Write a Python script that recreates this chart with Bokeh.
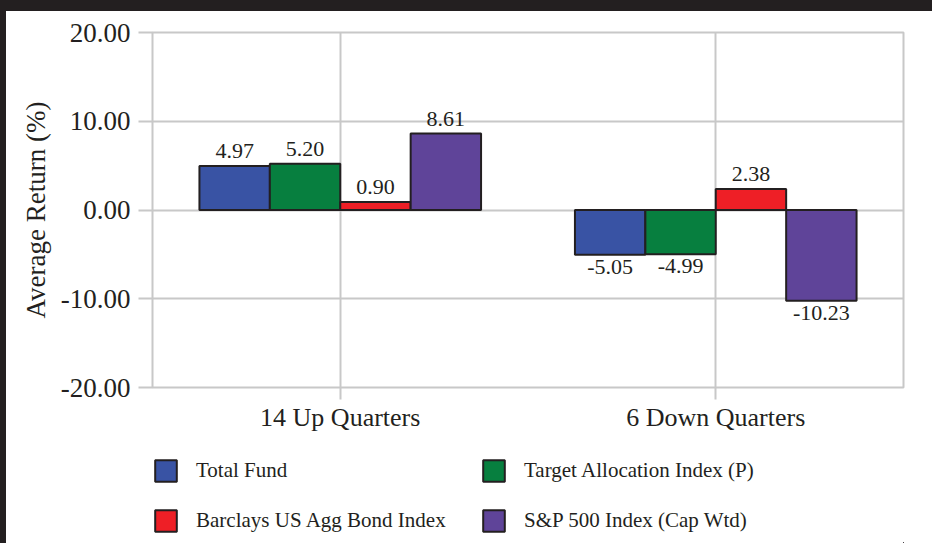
from bokeh.plotting import figure
from bokeh.models import (FactorRange, Range1d, ColumnDataSource, FixedTicker,
                          Legend, LegendItem, NumeralTickFormatter, Div)
from bokeh.layouts import column, row
from bokeh.transform import dodge
from bokeh.core.properties import value, field
from bokeh.embed import file_html
from bokeh.resources import INLINE

categories = ["14 Up Quarters", "6 Down Quarters"]
series_names = ["Total Fund", "Target Allocation Index (P)",
                "Barclays US Agg Bond Index", "S&P 500 Index (Cap Wtd)"]
total_fund = [4.97, -5.05]
target_alloc = [5.20, -4.99]
barclays_agg = [0.90, 2.38]
sp500 = [8.61, -10.23]
y_ticks = [-20, -10, 0, 10, 20]
colors = ["#3953a4", "#077f3f", "#ee1f26", "#5f4499"]

FONT = "Liberation Serif"
GRID = "#c8c8c8"
EDGE = "#231f20"

p = figure(x_range=FactorRange(*categories), y_range=Range1d(-20, 20),
           width=926, height=429, output_backend="svg", toolbar_location=None,
           min_border_left=146, min_border_right=29, min_border_top=21,
           min_border_bottom=53)

p.background_fill_color = "white"
p.border_fill_color = "white"
p.outline_line_color = GRID
p.outline_line_width = 2

p.xgrid.grid_line_color = GRID
p.xgrid.grid_line_width = 2
p.ygrid.grid_line_color = GRID
p.ygrid.grid_line_width = 2

p.yaxis.ticker = FixedTicker(ticks=y_ticks)
p.yaxis.formatter = NumeralTickFormatter(format="0.00")
p.yaxis.axis_line_color = None
p.yaxis.major_tick_in = 0
p.yaxis.major_tick_out = 14
p.yaxis.minor_tick_line_color = None
p.yaxis.major_tick_line_color = GRID
p.yaxis.major_tick_line_width = 2
p.yaxis.major_label_standoff = 8
p.yaxis.major_label_text_font = FONT
p.yaxis.major_label_text_font_size = "27px"
p.yaxis.major_label_text_color = EDGE
p.yaxis.axis_label = "Average Return (%)"
p.yaxis.axis_label_text_font = FONT
p.yaxis.axis_label_text_font_size = "27px"
p.yaxis.axis_label_text_font_style = "normal"
p.yaxis.axis_label_text_color = EDGE
p.yaxis.axis_label_standoff = 7

p.xaxis.axis_line_color = None
p.xaxis.major_tick_in = 0
p.xaxis.major_tick_out = 12
p.xaxis.major_tick_line_color = GRID
p.xaxis.major_tick_line_width = 2
p.xaxis.major_label_standoff = 3
p.xaxis.major_label_text_font = FONT
p.xaxis.major_label_text_font_size = "26px"
p.xaxis.major_label_text_color = EDGE

series_values = [total_fund, target_alloc, barclays_agg, sp500]
width = 0.1875
offsets = [-1.5 * width, -0.5 * width, 0.5 * width, 1.5 * width]

# legend-only figure below the chart (its bars are shifted out of view)
lg = figure(x_range=FactorRange(*categories), y_range=Range1d(200, 1000),
            width=926, height=103, output_backend="svg",
            toolbar_location=None, x_axis_type=None, y_axis_type=None,
            min_border=0)
lg.outline_line_color = None
lg.xgrid.visible = False
lg.ygrid.visible = False
lg.background_fill_color = "white"
lg.border_fill_color = "white"

items = []
for name, vals, col, off in zip(series_names, series_values, colors, offsets):
    src = ColumnDataSource(dict(
        x=categories,
        top=vals,
        label=["%.2f" % v for v in vals],
        baseline=["bottom" if v >= 0 else "top" for v in vals],
        yoff=[-8 if v >= 0 else 5 for v in vals],
    ))
    p.vbar(x=dodge("x", off, range=p.x_range), top="top", bottom=0,
           width=width, source=src, fill_color=col, line_color=EDGE,
           line_width=2)
    p.text(x=dodge("x", off, range=p.x_range), y="top", text="label",
           source=src, text_align="center", text_baseline=field("baseline"),
           y_offset=field("yoff"), text_font=value(FONT),
           text_font_size="22px", text_color=EDGE)
    lr = lg.vbar(x=dodge("x", off + 20, range=lg.x_range), top="top",
                 bottom=0, width=width, source=src, fill_color=col,
                 line_color=EDGE, line_width=2)
    items.append(LegendItem(label=name, renderers=[lr]))

legend = Legend(items=items, location=(0, 9), orientation="horizontal",
                ncols=2, glyph_width=27, glyph_height=27, label_standoff=17,
                label_width=261, spacing=23, padding=2, margin=0,
                border_line_color=None, background_fill_alpha=0,
                label_text_font=FONT, label_text_font_size="21px",
                label_text_color=EDGE)
lg.add_layout(legend, "center")

top_bar = Div(text="", width=932, height=11, margin=0,
              styles={"background-color": "#231f20"})
left_bar = Div(text="", width=6, height=532, margin=0,
               styles={"background-color": "#231f20"})

layout = column(top_bar, row(left_bar, column(p, lg, spacing=0), spacing=0),
                spacing=0)

open("out.html", "w").write(file_html(layout, INLINE))
